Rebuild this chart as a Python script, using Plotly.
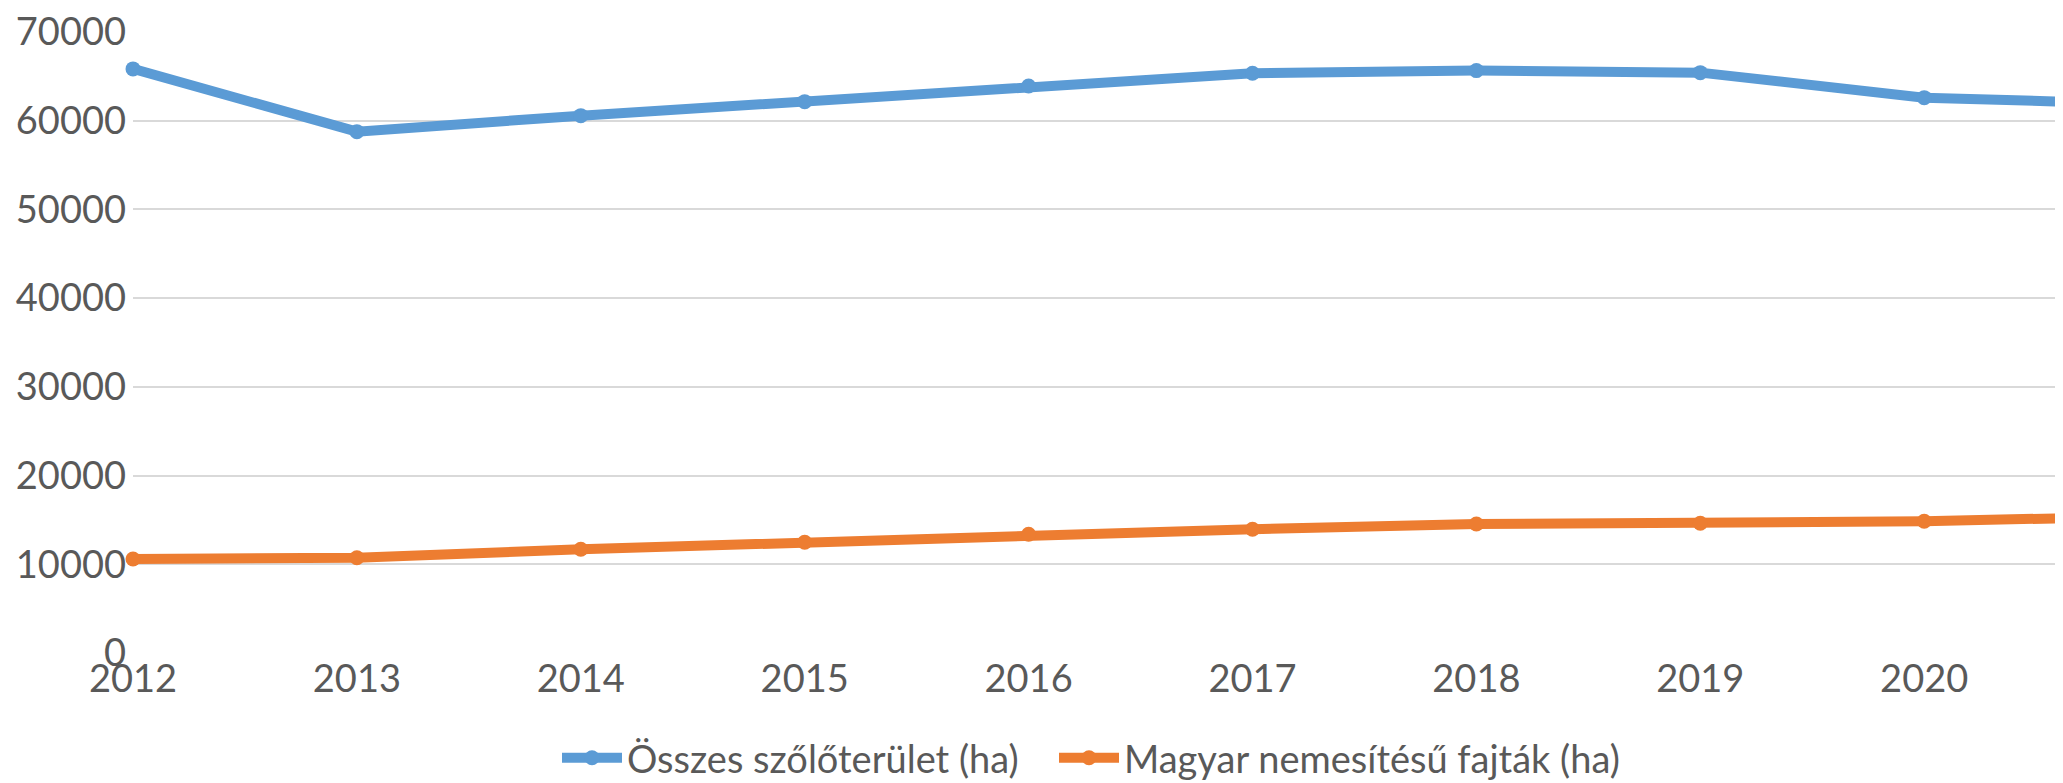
import plotly.graph_objects as go

years = [2012, 2013, 2014, 2015, 2016, 2017, 2018, 2019, 2020, 2021]
osszes = [65840, 58770, 60570, 62150, 63920, 65350, 65650, 65420, 62600, 61870]
magyar = [10600, 10740, 11690, 12480, 13380, 13950, 14540, 14620, 14850, 15400]
series_names = ["Összes szőlőterület (ha)", "Magyar nemesítésű fajták (ha)"]
colors = ["#5B9BD5", "#ED7D31"]
x_ticks = [2012, 2013, 2014, 2015, 2016, 2017, 2018, 2019, 2020]
y_ticks = [0, 10000, 20000, 30000, 40000, 50000, 60000, 70000]
y_tick_labels = ["0", "10000", "20000", "30000", "40000", "50000", "60000", "70000"]

FONT = "Lato"
OFF = 8  # page body margin
W, H = 2063 - OFF, 783 - OFF
L, R, T, B = 133 - OFF, 0, 32 - OFF, 130
plot_h = H - T - B
plot_w = W - L - R

fig = go.Figure()
for i, (name, vals, col) in enumerate(zip(series_names, [osszes, magyar], colors)):
    fig.add_trace(go.Scatter(
        x=years, y=vals, name=name, mode="lines+markers",
        line=dict(color=col, width=10),
        marker=dict(color=col, size=15),
        cliponaxis=False,
        legend="legend" if i == 0 else "legend2",
    ))

leg_common = dict(orientation="h", xanchor="left",
                  y=-105 / plot_h, yanchor="middle", itemwidth=60,
                  font=dict(family=FONT, size=38, color="#595959"),
                  bgcolor="rgba(0,0,0,0)")
fig.update_layout(
    width=W, height=H,
    margin=dict(l=L, r=R, t=T, b=B, pad=0, autoexpand=False),
    paper_bgcolor="white", plot_bgcolor="white",
    font=dict(family=FONT, size=38, color="#595959"),
    showlegend=True,
    legend=dict(x=(562 - OFF - L - 5) / plot_w, **leg_common),
    legend2=dict(x=(1059 - OFF - L - 5) / plot_w, **leg_common),
    xaxis=dict(range=[2012, 2012 + (2063 - 133) / 223.9], tickvals=x_ticks,
               showgrid=False, zeroline=False, showline=False,
               ticks="", automargin=False, ticklabeloverflow="allow",
               tickfont=dict(size=38, color="#595959")),
    yaxis=dict(range=[0, 70000], tickvals=y_ticks, ticktext=y_tick_labels,
               showgrid=True, gridcolor="#D9D9D9", gridwidth=2,
               zeroline=False, showline=False, ticks="", automargin=False,
               ticklabelstandoff=6, ticklabeloverflow="allow",
               tickfont=dict(size=38, color="#595959")),
)
fig.write_html("out.html")
